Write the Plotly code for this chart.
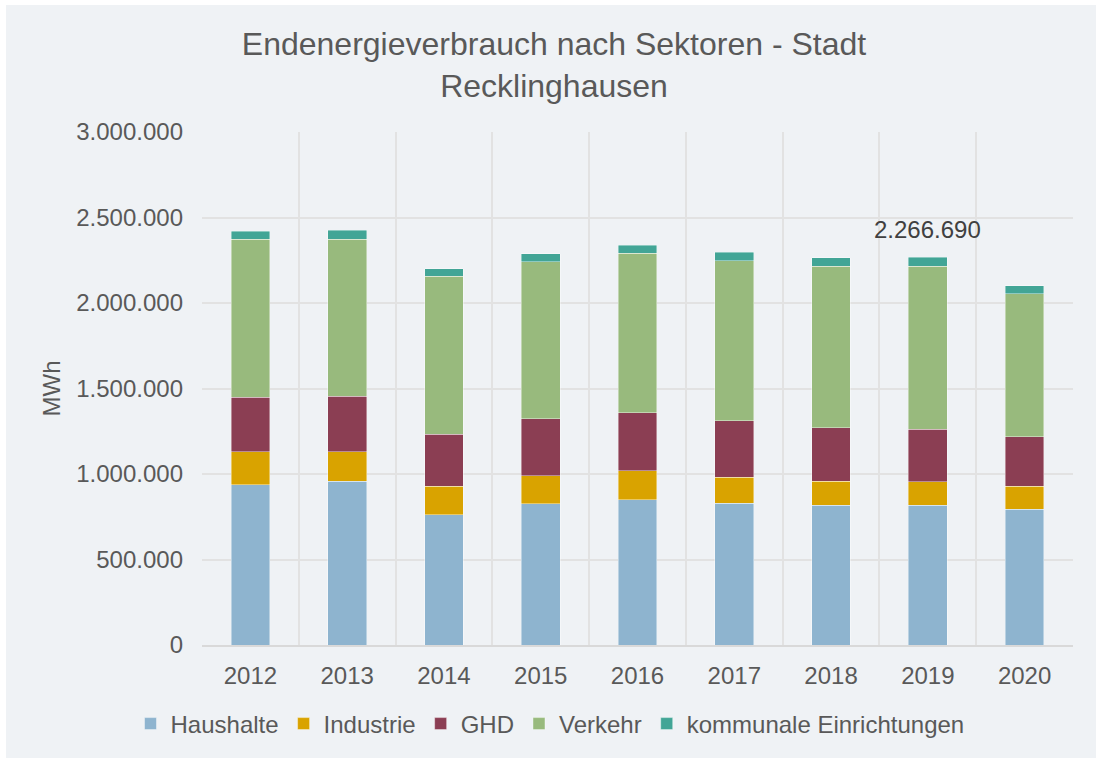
import plotly.graph_objects as go

years = ["2012", "2013", "2014", "2015", "2016", "2017", "2018", "2019", "2020"]
haushalte = [936000, 957000, 762000, 825000, 848000, 830000, 817000, 817000, 795000]
industrie = [193000, 173000, 166000, 165000, 170000, 152000, 142000, 138000, 133000]
ghd = [321000, 324000, 304000, 332000, 340000, 328000, 312000, 308000, 290000]
verkehr = [924000, 920000, 924000, 918000, 933000, 936000, 944000, 952000, 836000]
kommunal = [47000, 51000, 45000, 48000, 48000, 52000, 50000, 51690, 47000]

series = [
    ("Haushalte", haushalte, "#8EB4CF"),
    ("Industrie", industrie, "#D9A300"),
    ("GHD", ghd, "#8B3E53"),
    ("Verkehr", verkehr, "#98BA7D"),
    ("kommunale Einrichtungen", kommunal, "#42A596"),
]

label_year = "2019"
label_text = "2.266.690"

FONT = "Liberation Sans, Arial, sans-serif"
TXT = "#595959"
BG = "#EFF2F5"
GRID = "#E2E2E2"

fig = go.Figure()
for name, vals, col in series:
    fig.add_trace(go.Bar(
        x=years, y=vals, name=name,
        marker=dict(color=col, line=dict(color="rgba(255,255,255,0.5)", width=0.8)),
        hovertemplate="%{x}: %{y:,.0f}<extra>" + name + "</extra>",
    ))

idx = years.index(label_year)
total = sum(s[1][idx] for s in series)
fig.add_annotation(x=idx, y=total, text=label_text, showarrow=False,
                   yanchor="bottom", yshift=12, font=dict(size=24, color="#404040", family=FONT))

W, H = 1096, 758
L, R, T, B = 202, 23, 132, 113
pw, ph = W - L - R, H - T - B

# white strips at the top and left edge of the picture
fig.add_shape(type="rect", xref="paper", yref="paper",
              x0=-L / pw - 0.01, x1=(W - L) / pw + 0.01,
              y0=1 + (T - 5) / ph, y1=1 + T / ph + 0.01,
              fillcolor="white", line_width=0, layer="below")
fig.add_shape(type="rect", xref="paper", yref="paper",
              x0=-L / pw - 0.01, x1=-L / pw + 6 / pw, y0=-B / ph - 0.01, y1=1 + T / ph + 0.01,
              fillcolor="white", line_width=0, layer="below")

fig.update_layout(
    width=W, height=H,
    margin=dict(l=L, r=R, t=T, b=B, autoexpand=False),
    paper_bgcolor=BG, plot_bgcolor=BG,
    barmode="stack", bargap=0.6,
    separators=",.",
    font=dict(family=FONT, size=24, color=TXT),
    title=dict(text="Endenergieverbrauch nach Sektoren - Stadt<br>Recklinghausen",
               x=554 / W, xref="container", xanchor="center",
               y=1 - 55 / H, yref="container", yanchor="middle",
               font=dict(size=32, color=TXT, family=FONT)),
    legend=dict(orientation="h", xref="container", x=550 / W, xanchor="center",
                yref="container", y=1 - 724 / H, yanchor="middle",
                font=dict(size=24, color=TXT, family=FONT), traceorder="normal",
                itemwidth=30, bgcolor="rgba(0,0,0,0)"),
    showlegend=True,
)
fig.update_xaxes(type="category", range=[-0.5, len(years) - 0.5], tickson="boundaries",
                 showgrid=True, gridcolor=GRID, gridwidth=2, tickangle=0,
                 showline=True, linecolor="#D9D9D9", linewidth=2, ticks="",
                 tickfont=dict(size=24, color=TXT), ticklabelstandoff=8)
fig.update_yaxes(range=[0, 3000000], tick0=0, dtick=500000, tickformat=",.0f",
                 showgrid=True, gridcolor=GRID, gridwidth=2, zeroline=False,
                 ticks="", tickfont=dict(size=24, color=TXT), ticklabelstandoff=18,
                 title=dict(text="MWh", standoff=8, font=dict(size=24, color=TXT)))

fig.write_html("out.html", config={"displayModeBar": False},
               post_script="document.body.style.margin='0';document.body.style.overflow='hidden';")
